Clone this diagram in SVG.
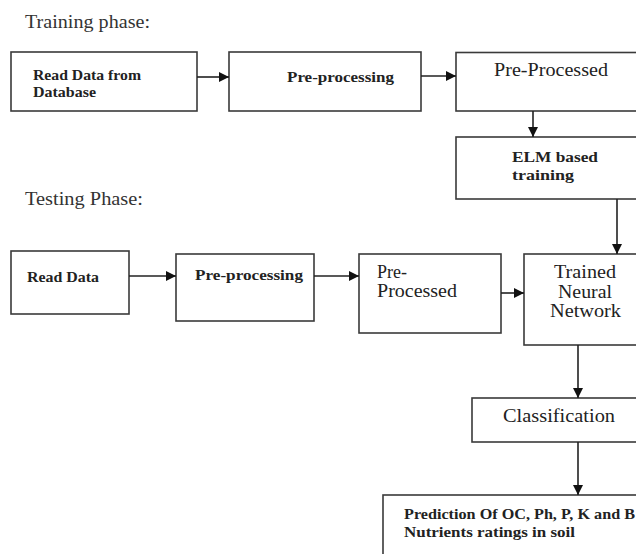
<svg xmlns="http://www.w3.org/2000/svg" width="636" height="554" viewBox="0 0 636 554">
<style>
.box{fill:#fff;stroke:#3a3a3a;stroke-width:1.6}
text{font-family:"Liberation Serif","DejaVu Serif","Times New Roman",serif;fill:#222}
.b{font-weight:bold;font-size:14.5px}
.r{font-size:18px}
.h{font-size:18px;fill:#333}
.c{stroke:#222;stroke-width:1.6;fill:none;marker-end:url(#ah)}
</style>
<defs>
<marker id="ah" viewBox="0 0 10 10" refX="10" refY="5" markerWidth="10" markerHeight="10" markerUnits="userSpaceOnUse" orient="auto">
<path d="M0,0 L10,5 L0,10 z" fill="#111"/>
</marker>
</defs>
<rect width="636" height="554" fill="#fff"/>
<text class="h" x="25" y="28" textLength="125" lengthAdjust="spacingAndGlyphs">Training phase:</text>
<text class="h" x="25" y="205" textLength="118" lengthAdjust="spacingAndGlyphs">Testing Phase:</text>

<g id="read-db">
<rect class="box" x="11" y="52" width="186" height="59"/>
<text class="b" x="33" y="80" textLength="108" lengthAdjust="spacingAndGlyphs">Read Data from</text>
<text class="b" x="33" y="97" textLength="63" lengthAdjust="spacingAndGlyphs">Database</text>
</g>
<g id="preproc-train">
<rect class="box" x="229" y="52" width="192" height="59"/>
<text class="b" x="287" y="82" textLength="107" lengthAdjust="spacingAndGlyphs">Pre-processing</text>
</g>
<g id="preprocessed-train">
<rect class="box" x="456" y="52.5" width="190" height="58.5"/>
<text class="r" x="494" y="76" textLength="114" lengthAdjust="spacingAndGlyphs">Pre-Processed</text>
</g>
<g id="elm">
<rect class="box" x="456" y="137" width="190" height="62"/>
<text class="b" x="512" y="162" textLength="86" lengthAdjust="spacingAndGlyphs">ELM  based</text>
<text class="b" x="512" y="180" textLength="62" lengthAdjust="spacingAndGlyphs">training</text>
</g>
<g id="read-data">
<rect class="box" x="11" y="251" width="118" height="63"/>
<text class="b" x="27" y="282" textLength="72" lengthAdjust="spacingAndGlyphs">Read Data</text>
</g>
<g id="preproc-test">
<rect class="box" x="176" y="254" width="138" height="67"/>
<text class="b" x="195" y="280" textLength="108" lengthAdjust="spacingAndGlyphs">Pre-processing</text>
</g>
<g id="preprocessed-test">
<rect class="box" x="359" y="254" width="142" height="79"/>
<text class="r" x="377" y="278">Pre-</text>
<text class="r" x="377" y="297" textLength="80" lengthAdjust="spacingAndGlyphs">Processed</text>
</g>
<g id="trained-nn">
<rect class="box" x="524" y="254" width="122" height="91"/>
<text class="r" x="554" y="278" textLength="62" lengthAdjust="spacingAndGlyphs">Trained</text>
<text class="r" x="558" y="298" textLength="54" lengthAdjust="spacingAndGlyphs">Neural</text>
<text class="r" x="550" y="317" textLength="71" lengthAdjust="spacingAndGlyphs">Network</text>
</g>
<g id="classification">
<rect class="box" x="472" y="398" width="174" height="44"/>
<text class="r" x="503" y="422" textLength="112" lengthAdjust="spacingAndGlyphs">Classification</text>
</g>
<g id="prediction">
<rect class="box" x="383" y="495" width="263" height="70"/>
<text class="b" x="404" y="519" textLength="231" lengthAdjust="spacingAndGlyphs">Prediction Of OC, Ph, P, K and B</text>
<text class="b" x="404" y="537" textLength="171" lengthAdjust="spacingAndGlyphs">Nutrients ratings in soil</text>
</g>

<g id="connectors">
<line class="c" x1="197" y1="77" x2="229" y2="77"/>
<line class="c" x1="421" y1="76" x2="456" y2="76"/>
<line class="c" x1="533" y1="111" x2="533" y2="137"/>
<line class="c" x1="617" y1="199" x2="617" y2="254"/>
<line class="c" x1="129" y1="276" x2="176" y2="276"/>
<line class="c" x1="314" y1="276" x2="359" y2="276"/>
<line class="c" x1="501" y1="293" x2="524" y2="293"/>
<line class="c" x1="578" y1="345" x2="578" y2="398"/>
<line class="c" x1="578" y1="442" x2="578" y2="495"/>
</g>
</svg>
